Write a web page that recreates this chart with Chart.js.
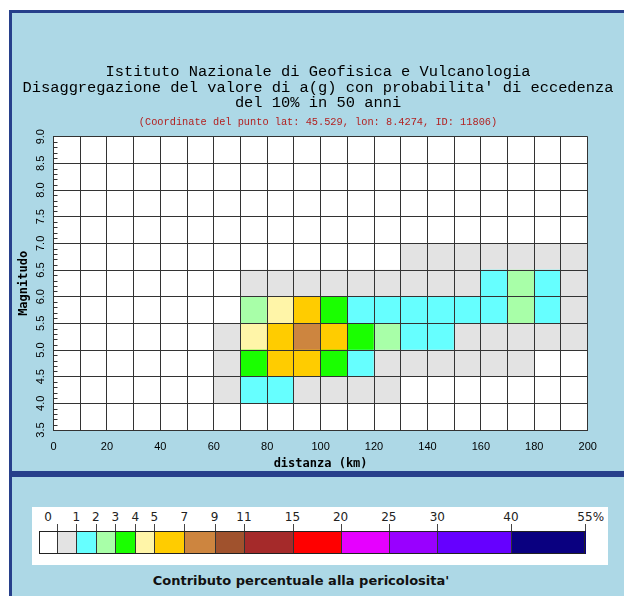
<!DOCTYPE html>
<html>
<head>
<meta charset="utf-8">
<script src="https://cdn.jsdelivr.net/npm/chart.js@4.4.1/dist/chart.umd.min.js"></script>
<style>
  html, body { margin: 0; padding: 0; background: #fff; width: 624px; height: 596px; overflow: hidden; }
  #frame { position: absolute; left: 9px; top: 10px; width: 700px; height: 700px; background: #add8e6;
           border-left: 3px solid #27408b; border-top: 3px solid #27408b; }
  #divider { position: absolute; left: 9px; top: 471px; width: 700px; height: 6px; background: #27408b; }
  #chartWrap { position: absolute; left: 12px; top: 13px; width: 612px; height: 458px; }
  #legendBox { position: absolute; left: 32px; top: 507px; width: 576px; height: 58px; background: #fff; }
  .seg { position: absolute; top: 531px; height: 23px; box-sizing: border-box; border-left: 1px solid #333; }
  .tick { position: absolute; top: 524px; width: 1px; height: 7px; background: #444; }
  .lab { position: absolute; top: 510px; font: 12px "DejaVu Sans", sans-serif; line-height: 14px; color: #222; white-space: nowrap; }
  #barOutline { position: absolute; left: 39px; top: 531px; width: 546px; height: 23px; box-sizing: border-box; border: 1px solid #222; }
  #caption { position: absolute; left: 0; top: 573px; width: 602px; text-align: center;
             font: bold 13px "DejaVu Sans", sans-serif; line-height: 16px; color: #111; }
</style>
</head>
<body>
<div id="frame"></div>
<div id="divider"></div>
<div id="chartWrap"><canvas id="chart" width="612" height="458"></canvas></div>
<div id="legendBox"></div>
<div id="legend"></div>
<div id="barOutline"></div>
<div id="caption">Contributo percentuale alla pericolosita'</div>
<script>
// distance bins (lower edge, km), bin width 10 km
var distanceBins = [0, 10, 20, 30, 40, 50, 60, 70, 80, 90, 100, 110, 120, 130, 140, 150, 160, 170, 180, 190];
// magnitude bins (lower edge), bin width 0.5
var magnitudeBins = [3.5, 4.0, 4.5, 5.0, 5.5, 6.0, 6.5, 7.0, 7.5, 8.0, 8.5];

// percent contribution per distance bin, one list per magnitude bin
var m35 = [0, 0, 0, 0, 0, 0, 0, 0, 0, 0, 0, 0, 0, 0, 0, 0, 0, 0, 0, 0];
var m40 = [0, 0, 0, 0, 0, 0, 0.4, 1.3, 1.2, 0.8, 0.5, 0.3, 0.1, 0, 0, 0, 0, 0, 0, 0];
var m45 = [0, 0, 0, 0, 0, 0, 0.6, 3.4, 5.5, 5.2, 3.1, 1.4, 0.8, 0.5, 0.4, 0.3, 0.2, 0.1, 0, 0];
var m50 = [0, 0, 0, 0, 0, 0, 0.7, 4.2, 5.9, 7.2, 5.3, 3.6, 2.4, 1.8, 1.3, 0.9, 0.7, 0.6, 0.5, 0.4];
var m55 = [0, 0, 0, 0, 0, 0, 0, 2.5, 4.4, 5.2, 3.3, 1.9, 1.7, 1.6, 1.5, 1.4, 1.6, 2.3, 1.7, 0.9];
var m60 = [0, 0, 0, 0, 0, 0, 0, 0.3, 0.5, 0.6, 0.7, 0.7, 0.7, 0.8, 0.8, 0.9, 1.2, 2.1, 1.3, 0.7];
var m65 = [0, 0, 0, 0, 0, 0, 0, 0, 0, 0, 0, 0, 0, 0.1, 0.1, 0.2, 0.3, 0.4, 0.3, 0.2];
var m70 = [0, 0, 0, 0, 0, 0, 0, 0, 0, 0, 0, 0, 0, 0, 0, 0, 0, 0, 0, 0];
var m75 = [0, 0, 0, 0, 0, 0, 0, 0, 0, 0, 0, 0, 0, 0, 0, 0, 0, 0, 0, 0];
var m80 = [0, 0, 0, 0, 0, 0, 0, 0, 0, 0, 0, 0, 0, 0, 0, 0, 0, 0, 0, 0];
var m85 = [0, 0, 0, 0, 0, 0, 0, 0, 0, 0, 0, 0, 0, 0, 0, 0, 0, 0, 0, 0];

// colour classes (percent)
var classBounds = [0, 1, 2, 3, 4, 5, 7, 9, 11, 15, 20, 25, 30, 40, 55];
var classLabels = ['0', '1', '2', '3', '4', '5', '7', '9', '11', '15', '20', '25', '30', '40', '55%'];
var classColors = ['#ffffff', '#e3e3e3', '#66ffff', '#a8ffa8', '#1aff00', '#fff5a8', '#ffcc00',
                   '#cd853f', '#a0522d', '#a52a2a', '#ff0000', '#e600ff', '#9900ff', '#6600ff', '#0a0080'];

var titleLines = [
  'Istituto Nazionale di Geofisica e Vulcanologia',
  "Disaggregazione del valore di a(g) con probabilita' di eccedenza",
  'del 10% in 50 anni'
];
var subTitle = '(Coordinate del punto lat: 45.529, lon: 8.4274, ID: 11806)';

function colorFor(v) {
  if (v <= 0) return classColors[0];
  for (var k = 1; k < classBounds.length; k++) {
    if (v < classBounds[k]) return classColors[k];
  }
  return classColors[classColors.length - 1];
}

var rows = [m35, m40, m45, m50, m55, m60, m65, m70, m75, m80, m85];
var datasets = rows.map(function(vals, i) {
  var pts = [], cols = [];
  vals.forEach(function(v, j) {
    if (v > 0) {
      pts.push({ x: distanceBins[j] + 5, y: [magnitudeBins[i], magnitudeBins[i] + 0.5] });
      cols.push(colorFor(v));
    }
  });
  return {
    label: 'M ' + magnitudeBins[i].toFixed(1),
    data: pts,
    backgroundColor: cols,
    borderWidth: 0,
    grouped: false,
    barPercentage: 1,
    categoryPercentage: 1
  };
});

var plotBg = {
  id: 'plotBg',
  beforeDraw: function(chart) {
    var a = chart.chartArea, c = chart.ctx;
    c.save();
    c.fillStyle = '#ffffff';
    c.fillRect(a.left, a.top, a.right - a.left, a.bottom - a.top);
    c.restore();
  }
};

// small 0.1 ticks on the inside of the magnitude axis
var minorTicks = {
  id: 'minorTicks',
  afterDraw: function(chart) {
    var ys = chart.scales.y, a = chart.chartArea, c = chart.ctx;
    c.save();
    c.strokeStyle = '#333';
    c.lineWidth = 1;
    c.beginPath();
    for (var k = 35; k <= 90; k++) {
      if (k % 5 === 0) continue;
      var py = Math.round(ys.getPixelForValue(k / 10)) + 0.5;
      c.moveTo(a.left, py);
      c.lineTo(a.left + 4, py);
    }
    c.stroke();
    c.restore();
  }
};

var ctx = document.getElementById('chart').getContext('2d');
var heat = new Chart(ctx, {
  type: 'bar',
  data: { datasets: datasets },
  options: {
    responsive: false,
    animation: false,
    layout: { padding: { left: 0, right: 0, top: 50.8, bottom: 0 } },
    plugins: {
      legend: { display: false },
      tooltip: { enabled: false },
      title: {
        display: true,
        text: titleLines,
        color: '#000',
        font: { family: 'Liberation Mono', size: 15.4, weight: 'normal', lineHeight: '15.8px' },
        padding: { top: 0, bottom: 0 }
      },
      subtitle: {
        display: true,
        text: subTitle,
        color: '#b22222',
        font: { family: 'Liberation Mono', size: 10.3, weight: 'normal', lineHeight: '12.4px' },
        padding: { top: 4.9, bottom: 8.2 }
      }
    },
    scales: {
      x: {
        type: 'linear',
        position: 'bottom',
        min: 0,
        max: 200,
        offset: false,
        grid: { offset: false, color: '#333', drawTicks: false, z: 1 },
        border: { color: '#333', z: 1 },
        ticks: {
          stepSize: 10, autoSkip: false, maxRotation: 0, padding: 10, color: '#000', z: 1,
          font: { family: 'Liberation Sans', size: 11 },
          callback: function(v) { return Math.round(v) % 20 === 0 ? Math.round(v) : ''; }
        },
        title: {
          display: true, text: 'distanza (km)', color: '#000',
          font: { family: 'DejaVu Sans Mono', size: 12, weight: 'bold' },
          padding: { top: 0, bottom: 0 }
        },
        afterFit: function(s) { s.height = 41; }
      },
      y: {
        type: 'linear',
        position: 'left',
        min: 3.5,
        max: 9.0,
        grid: { color: '#333', drawTicks: false, z: 1 },
        border: { color: '#333', z: 1 },
        ticks: {
          stepSize: 0.5, autoSkip: false, minRotation: 90, maxRotation: 90, crossAlign: 'center',
          padding: 5, color: '#000', z: 1,
          font: { family: 'Liberation Sans', size: 11 },
          callback: function(v) { return Number(v).toFixed(1); }
        },
        title: {
          display: true, text: 'Magnitudo', color: '#000',
          font: { family: 'DejaVu Sans Mono', size: 12, weight: 'bold' },
          padding: { top: 4.8, bottom: 0 }
        },
        afterFit: function(s) { s.width = 41.5; }
      },
      yRight: {
        position: 'right',
        display: true,
        grid: { display: false },
        border: { display: false },
        ticks: { display: false },
        afterFit: function(s) { s.width = 36.3; }
      }
    }
  },
  plugins: [plotBg, minorTicks]
});

// colour bar legend
var segX = [39, 57, 76.4, 95.9, 115.4, 135.3, 154.4, 184.2, 214.5, 243.9, 292.5, 340.6, 388.8, 437.3, 511, 585];
var legend = document.getElementById('legend');
classColors.forEach(function(col, i) {
  var d = document.createElement('div');
  d.className = 'seg';
  d.style.left = segX[i] + 'px';
  d.style.width = (segX[i + 1] - segX[i] + 1) + 'px';
  d.style.background = col;
  if (i === 0) d.style.borderLeft = 'none';
  legend.appendChild(d);
  var t = document.createElement('div');
  t.className = 'tick';
  t.style.left = segX[i + 1] + 'px';
  legend.appendChild(t);
});
classLabels.forEach(function(txt, i) {
  var l = document.createElement('div');
  l.className = 'lab';
  l.textContent = txt;
  legend.appendChild(l);
  var w = l.getBoundingClientRect().width;
  var cx;
  if (i === 0) cx = (segX[0] + segX[1]) / 2;
  else cx = segX[i + 1];
  if (txt.indexOf('%') > 0) {
    var probe = document.createElement('span');
    probe.style.font = '12px "DejaVu Sans", sans-serif';
    probe.textContent = txt.replace('%', '');
    document.body.appendChild(probe);
    var nw = probe.getBoundingClientRect().width;
    probe.remove();
    l.style.left = (cx - nw / 2) + 'px';
  } else {
    l.style.left = (cx - w / 2) + 'px';
  }
});
</script>
</body>
</html>
